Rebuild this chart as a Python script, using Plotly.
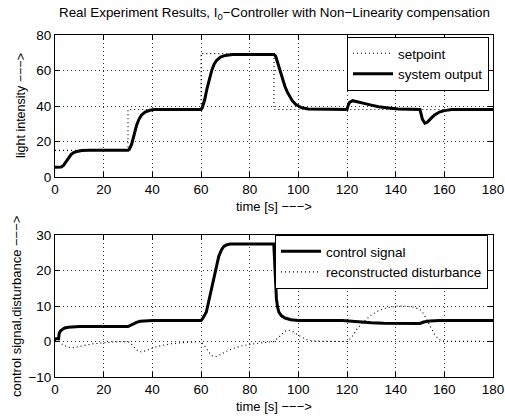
import plotly.graph_objects as go

# ---- upper panel: light intensity ----
t_setpoint = [0, 30, 30, 60, 60, 90, 90, 180]
setpoint = [15, 15, 38, 38, 69.5, 69.5, 38, 38]

t_output = [0, 2.5, 3.5, 4.5, 5.5, 6.5, 7.5, 9, 11, 14,
            30, 30.5, 31.5, 32.5, 33.5, 34.5, 35.5, 37, 39, 41,
            60, 60.5, 61.5, 62.5, 63.5, 64.5, 65.5, 66.5, 68, 70, 73,
            90, 90.7, 91.5, 92.5, 93.5, 94.5, 95.5, 96.5, 97.5, 99, 101, 104,
            120, 120.4, 121, 122.3, 124, 127, 130, 133, 137, 141,
            150, 150.4, 151, 152, 153, 154.5, 156, 158, 160, 163, 180]
output = [5.5, 5.6, 6.5, 8.5, 10.8, 12.5, 13.6, 14.4, 14.9, 15,
          15, 15.5, 18.5, 24, 29, 32.5, 34.8, 36.6, 37.6, 38,
          38, 39, 43.5, 50, 56, 60.5, 63.8, 65.8, 67.6, 68.5, 69,
          69, 68, 64.5, 59.5, 55, 51, 47.8, 45.2, 43, 40.8, 39.2, 38.3,
          38, 40, 42, 43, 42.6, 41.5, 40.5, 39.6, 38.9, 38.3,
          38, 36, 32.5, 30.3, 30.8, 33, 35, 36.6, 37.4, 38, 38]

# ---- lower panel: control signal and disturbance estimate ----
t_control = [0, 1.5, 1.7, 2.2, 3, 4, 5.5, 7.5, 10, 30,
             31, 32, 33.5, 35, 37, 40, 60, 60.8, 62.2, 63.2,
             64.2, 65.2, 66.3, 67.3, 68.4, 69.4, 70.4, 72, 75,
             89.9, 90.3, 90.6, 91, 91.5, 92, 93, 94.5, 97, 100,
             118, 122, 126, 130, 135, 150, 151.5, 154, 158, 180]
control = [0.8, 0.8, 2.2, 2.9, 3.4, 3.8, 4.0, 4.1, 4.2, 4.2,
           4.6, 5.0, 5.4, 5.7, 5.85, 5.9, 5.9, 6.6, 8.3, 11.5,
           14.9, 18.3, 21.5, 24, 25.8, 26.8, 27.2, 27.45, 27.5,
           27.5, 22, 16, 12, 9.6, 8.3, 7.3, 6.6, 6.15, 5.95,
           5.9, 5.8, 5.5, 5.3, 5.15, 5.1, 5.5, 5.75, 5.9, 5.9]

t_disturbance = [0, 1.5, 3, 5, 7, 9, 12, 16, 20, 25,
                 30, 31.5, 33, 34.5, 36, 38, 41, 44, 48, 53,
                 58, 60, 61.5, 63, 64.5, 66, 68, 70, 73, 77,
                 82, 88, 90, 91.5, 93, 94.5, 96, 97.5, 99, 101,
                 103, 106, 110, 120, 121, 122.5, 124, 126, 128, 130,
                 132.5, 135, 138, 141, 145, 148, 150, 151.5, 153, 154.5,
                 156, 157.5, 159, 180]
disturbance = [0.3, 0.2, -0.8, -1.5, -1.8, -1.6, -1.1, -0.6, -0.3, -0.1,
               0, -0.8, -2.0, -2.9, -2.9, -2.4, -1.6, -1.1, -0.6, -0.3,
               -0.1, 0, -1.2, -2.8, -4.0, -4.3, -3.7, -2.9, -2.0, -1.2,
               -0.6, -0.2, 0, 0.9, 2.0, 2.9, 3.2, 2.9, 2.2, 1.3,
               0.6, 0.2, 0.05, 0, 0.5, 1.8, 3.4, 5.0, 6.4, 7.5,
               8.5, 9.2, 9.7, 10, 9.9, 9.6, 9.0, 7.8, 5.8, 3.8,
               2.0, 0.8, 0.1, 0]

x_ticks = [0, 20, 40, 60, 80, 100, 120, 140, 160, 180]
y_ticks_top = [0, 20, 40, 60, 80]
y_ticks_bottom = [-10, 0, 10, 20, 30]

W, H = 505, 416
FONT = "Liberation Sans, Arial, Helvetica, sans-serif"


def fx(px):
    return px / W


def fy(py):
    return 1 - py / H


dotted = dict(color="black", width=1.1, dash="1px,3px")
solid = dict(color="black", width=3)

fig = go.Figure()
fig.add_trace(go.Scatter(x=t_setpoint, y=setpoint, name="setpoint", mode="lines",
                         line=dotted, xaxis="x", yaxis="y", legend="legend"))
fig.add_trace(go.Scatter(x=t_output, y=output, name="system output", mode="lines",
                         line=solid, xaxis="x", yaxis="y", legend="legend"))
fig.add_trace(go.Scatter(x=t_control, y=control, name="control signal", mode="lines",
                         line=solid, xaxis="x2", yaxis="y2", legend="legend2"))
fig.add_trace(go.Scatter(x=t_disturbance, y=disturbance, name="reconstructed disturbance",
                         mode="lines", line=dotted, xaxis="x2", yaxis="y2", legend="legend2"))

axis_common = dict(
    showline=True, linecolor="black", linewidth=1, mirror="allticks",
    ticks="inside", ticklen=5, tickwidth=1, tickcolor="black",
    showgrid=True, gridcolor="#333", griddash="1px,3px", gridwidth=1,
    zeroline=False, automargin=False,
    tickfont=dict(family=FONT, size=13.5, color="black"),
)

x_dom = [fx(55), fx(493)]
legend_common = dict(xanchor="left", yanchor="top", bgcolor="white",
                     bordercolor="black", borderwidth=1, tracegroupgap=0, itemwidth=40,
                     font=dict(family=FONT, size=13.5, color="black"))
fig.update_layout(
    width=W, height=H,
    margin=dict(l=0, r=0, t=0, b=0, pad=0, autoexpand=False),
    paper_bgcolor="white", plot_bgcolor="white",
    xaxis=dict(domain=x_dom, range=[0, 180], tickvals=x_ticks, anchor="y", **axis_common),
    yaxis=dict(domain=[fy(177), fy(35)], range=[0, 80], tickvals=y_ticks_top, anchor="x", **axis_common),
    xaxis2=dict(domain=x_dom, range=[0, 180], tickvals=x_ticks, anchor="y2", **axis_common),
    yaxis2=dict(domain=[fy(377), fy(235)], range=[-10, 30], tickvals=y_ticks_bottom, anchor="x2", **axis_common),
    legend=dict(x=fx(347), y=fy(37), **legend_common),
    legend2=dict(x=fx(275), y=fy(235), **legend_common),
    showlegend=True,
)

label_font = dict(family=FONT, size=13, color="black", weight="normal")
title_font = dict(family=FONT, size=13.4, color="black", weight="normal")
annotations = [
    dict(text="Real Experiment Results, I<sub>0</sub>−Controller with Non−Linearity compensation",
         x=fx(274), y=fy(14), xref="paper", yref="paper", showarrow=False,
         xanchor="center", yanchor="middle", font=title_font),
    dict(text="time [s] −−−>", x=fx(274), y=fy(206), xref="paper", yref="paper",
         showarrow=False, xanchor="center", yanchor="middle", font=label_font),
    dict(text="time [s] −−−>", x=fx(274), y=fy(406), xref="paper", yref="paper",
         showarrow=False, xanchor="center", yanchor="middle", font=label_font),
    dict(text="light intensity −−−>", x=fx(21), y=fy(106), xref="paper", yref="paper",
         showarrow=False, textangle=-90, xanchor="center", yanchor="middle",
         font=dict(label_font, size=12.5)),
    dict(text="control signal,disturbance −−−>", x=fx(16), y=fy(307), xref="paper", yref="paper",
         showarrow=False, textangle=-90, xanchor="center", yanchor="middle", font=label_font),
]
fig.update_layout(annotations=annotations)

fig.write_html("out.html")
